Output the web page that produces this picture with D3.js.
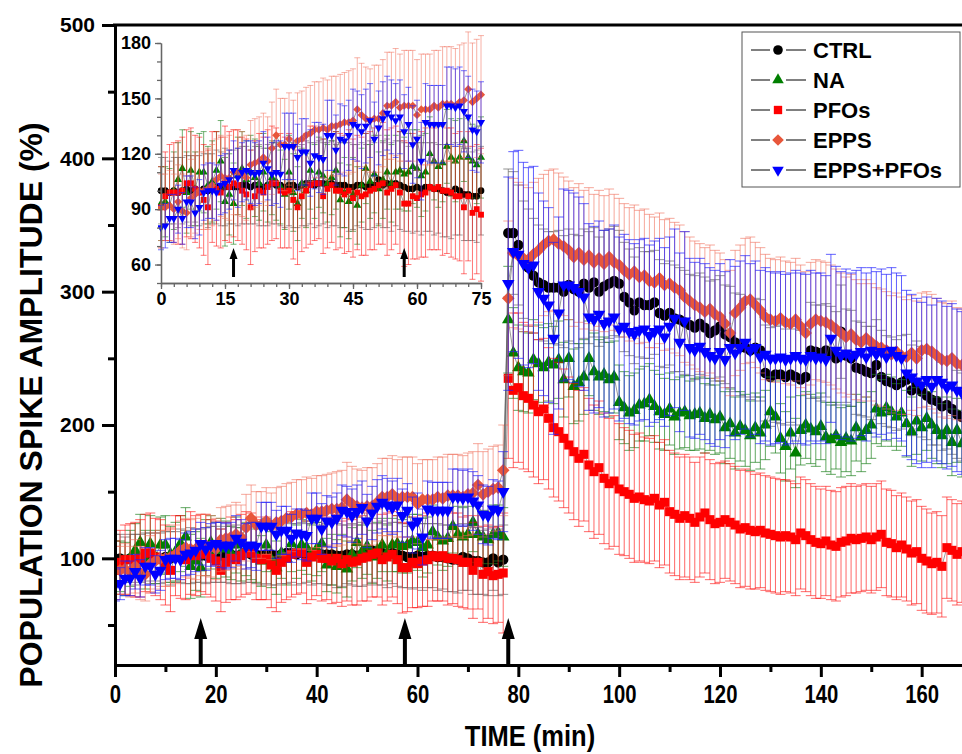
<!DOCTYPE html>
<html>
<head>
<meta charset="utf-8">
<script src="https://cdn.jsdelivr.net/npm/d3@7"></script>
<style>
  body { margin: 0; background: #fff; }
  svg { display: block; }
  text { font-family: "Liberation Sans", Arial, sans-serif; font-weight: bold; }
</style>
</head>
<body>
<div id="chart"></div>
<script>
// sampled once a minute, 0..168 min
const minutes = d3.range(0, 169)
const arrowTimes = [17, 57.5, 78]
const insetArrowTimes = [17, 57]

const ctrlPre = [100,100,99,100,99,100,101,100,101,100, 101,100,101,102,101,102,102,102,102,103, 103,102,103,103,102,103,104,103,103,102, 103,103,102,103,104,104,103,104,104,103, 104,103,103,103,102,102,103,103,102,103, 103,106,103,104,102,104,103,102,101,101, 102,101,102,102,101,101,100,99,99,101, 100,98,98,97,97,100,97,99]
const ctrlPost = [344,344,335,324,318,312,307,305,303,303, 303,300,305,302,300,306,303,307,300,304, 306,308,306,296,292,286,292,290,290,292, 284,282,284,280,279,277,275,273,276,273, 269,271,274,268,266,262,260,258,256,258, 256,239,236,238,238,236,238,236,234,236, 256,255,254,256,253,250,270,252,250,243, 242,240,239,245,236,233,232,230,232,234, 226,230,225,222,219,218,214,215,212,208, 206]
const ctrlErrPre = [18,18,17,18,19,18,18,19,18,19, 19,20,19,20,20,21,20,20,21,21, 21,20,21,22,21,22,22,21,22,22, 22,23,22,22,23,22,23,23,22,23, 23,22,23,23,24,23,22,23,23,24, 23,24,23,24,24,23,24,24,23,24, 24,25,24,24,25,24,25,24,25,25, 24,25,25,24,25,24,25,26]
const ctrlErrPost = [48,46,45,44,44,43,43,42,42,42, 43,42,42,41,42,41,42,41,41,42, 41,41,40,41,40,40,41,40,40,39, 40,39,39,40,39,39,38,39,38,38, 39,38,38,37,38,37,38,37,37,37, 38,36,37,36,37,36,36,36,37,36, 36,35,36,35,36,35,35,35,36,35, 35,34,35,34,35,34,34,34,35,34, 34,33,34,33,34,33,33,33,34,33, 33]

const naPre = [93,94,92,100,106,112,99,111,101,110, 110,103,105,111,116,94,98,93,108,112, 106,110,107,104,110,103,107,105,102,98, 110,99,93,104,100,111,105,110,108,104, 107,111,95,99,94,98,92,103,112,105, 109,101,106,110,104,110,111,109,110,113, 112,108,110,120,116,113,115,124,118,116, 118,127,118,116,114,118,119,116]
const naPost = [279,254,243,240,239,249,246,243,247,245, 249,234,250,229,232,236,250,240,236,238, 234,236,217,213,209,211,215,216,219,214, 210,208,212,206,209,210,207,208,209,205, 208,204,206,198,201,194,199,196,192,198, 194,200,210,206,190,184,194,179,196,200, 197,195,199,191,189,192,187,190,188,198, 191,196,200,212,209,213,210,206,209,201, 195,203,198,205,200,196,192,196,187,196, 186]
const naErrPre = [20,19,20,21,20,21,22,21,20,21, 22,21,22,21,22,24,22,22,21,20, 21,20,21,20,21,20,20,21,20,19, 20,21,20,19,20,21,20,19,20,21, 20,21,20,19,20,20,21,20,19,20, 21,20,21,20,21,20,21,20,21,20, 21,22,21,20,21,22,21,20,21,22, 21,22,21,20,21,22,21,22]
const naErrPost = [40,34,32,30,30,30,29,30,29,29, 29,28,29,28,29,28,28,29,28,28, 28,27,28,27,28,28,27,28,27,27, 28,27,27,28,27,27,26,27,27,26, 27,26,27,27,26,27,26,27,26,26, 27,26,26,27,26,26,27,26,26,25, 26,26,25,26,26,25,26,25,26,25, 26,25,25,26,25,25,26,25,25,25, 26,25,25,24,25,25,24,25,25,24, 25]

const pfosPre = [91,97,99,99,99,100,104,104,101,99, 95,91,102,101,99,104,102,104,103,100, 98,91,97,100,99,102,104,104,100,99, 100,95,91,97,100,103,104,104,97,101, 103,100,100,98,100,96,99,97,98,100, 101,103,104,99,101,103,99,93,93,97, 96,98,99,102,101,102,100,100,99,97, 97,91,97,88,90,87,88,89]
const pfosPost = [235,226,228,222,220,215,210,212,205,198, 195,190,185,180,175,178,170,165,168,160, 156,158,152,150,148,145,146,144,143,145, 140,142,135,133,130,132,130,127,131,134, 129,126,127,129,127,125,122,123,121,120, 121,119,118,117,116,117,116,114,119,117, 114,112,111,113,110,109,112,113,115,114, 115,116,114,116,118,112,111,108,110,107, 104,105,100,98,96,97,94,108,106,103, 105]
const pfosErrPre = [22,24,26,27,28,29,29,30,29,30, 30,31,30,31,30,31,30,29,30,29, 30,31,30,31,30,31,31,30,31,30, 31,32,31,30,31,32,31,30,31,32, 31,32,31,32,33,32,31,32,33,32, 33,32,33,34,33,32,33,34,33,34, 33,34,35,34,33,34,35,34,35,34, 35,36,35,36,35,36,36,45]
const pfosErrPost = [60,58,56,55,55,54,54,53,53,52, 52,52,51,51,51,50,50,50,50,49, 49,49,49,48,48,48,48,47,47,47, 47,47,46,46,46,46,46,45,45,45, 45,45,45,44,44,44,44,44,44,43, 43,43,43,43,43,42,42,42,42,42, 42,42,41,41,41,41,41,41,41,40, 40,40,40,40,40,40,40,39,39,39, 39,39,39,39,38,38,38,38,38,38, 38]

const eppsPre = [91,91,92,90,94,89,88,96,98,100, 100,101,103,106,108,107,107,110,110,109, 107,114,115,116,118,116,123,130,125,125, 128,124,127,128,130,131,133,133,134,133, 135,135,136,137,137,138,144,141,139,138, 139,139,142,146,146,148,145,146,146,146, 141,144,144,144,146,145,147,147,147,146, 148,149,155,148,150,152,153,166]
const eppsPost = [295,329,327,325,324,328,331,335,338,339, 336,334,331,326,329,324,327,322,325,321, 326,322,320,316,313,315,311,312,308,307, 310,305,306,303,301,296,293,290,288,285, 287,283,281,276,269,284,288,293,294,290, 286,281,279,278,280,277,276,279,274,269, 276,279,278,277,275,272,269,266,268,264, 262,265,262,259,258,256,253,255,252,251, 254,250,256,257,255,252,249,248,250,246, 245]
const eppsErrPre = [18,18,19,19,20,20,20,21,21,21, 21,22,22,22,22,22,23,23,23,23, 23,24,24,24,24,24,25,25,25,25, 25,25,26,26,26,26,26,26,27,27, 27,27,27,27,28,28,28,28,28,28, 29,29,29,29,29,29,29,30,30,30, 30,30,30,30,30,31,31,31,31,31, 31,31,31,32,32,32,32,34]
const eppsErrPost = [58,56,55,55,54,54,54,53,53,53, 53,52,52,52,52,52,51,51,51,51, 51,51,50,50,50,50,50,50,50,49, 49,49,49,49,49,49,48,48,48,48, 48,48,48,48,47,47,47,47,47,47, 47,47,46,46,46,46,46,46,46,46, 46,45,45,45,45,45,45,45,45,45, 44,44,44,44,44,44,44,44,44,43, 43,43,43,43,43,43,43,43,43,42, 42]

const bluePre = [80,81,85,85,90,85,94,94,88,91, 99,100,100,99,103,104,106,111,107,110, 111,110,109,110,115,112,109,110,109,124, 124,124,118,121,121,115,119,118,117,130, 130,122,128,127,130,136,135,132,135,138, 128,134,139,142,140,138,140,132,136,125, 128,116,137,136,136,136,136,146,146,145, 146,143,140,133,132,137,136,150]
const bluePost = [306,330,328,321,318,320,300,295,290,265, 284,305,305,303,300,296,281,279,283,276, 278,281,272,274,270,268,271,272,267,270, 272,266,274,280,262,278,258,256,259,255, 252,250,255,249,258,254,258,262,256,258, 251,253,250,250,251,249,250,252,250,249, 252,250,251,249,265,256,252,254,251,253, 255,251,256,253,255,251,256,252,250,239, 236,233,230,234,229,234,232,228,230,226, 224]
const blueErrPre = [12,12,13,13,13,14,14,14,14,15, 15,15,15,15,16,16,16,16,16,16, 16,17,17,17,17,17,17,17,18,18, 18,18,18,18,18,18,18,19,19,19, 19,19,19,19,19,19,19,20,20,20, 20,20,20,20,20,20,20,20,20,21, 21,21,21,21,21,21,21,21,21,21, 21,22,22,22,22,22,22,30]
const blueErrPost = [80,75,78,76,75,74,74,73,73,72, 72,72,71,71,71,70,70,70,70,70, 69,69,69,69,69,68,68,68,68,68, 68,67,67,67,67,67,67,66,66,66, 66,66,66,66,66,65,65,65,65,65, 65,65,65,64,64,64,64,64,64,64, 64,64,63,63,63,63,63,63,63,63, 63,63,62,62,62,62,62,62,62,62, 62,62,62,62,61,61,61,61,61,61, 61]

const diamond = {
  draw(ctx, size) {
    const r = Math.sqrt(size / 2)
    ctx.moveTo(0, -r); ctx.lineTo(r, 0); ctx.lineTo(0, r); ctx.lineTo(-r, 0); ctx.closePath()
  }
}
const triangleDown = {
  draw(ctx, size) {
    const a = Math.sqrt(size * 4 / Math.sqrt(3))
    const h = a * Math.sqrt(3) / 2
    ctx.moveTo(-a / 2, -h / 3); ctx.lineTo(a / 2, -h / 3); ctx.lineTo(0, 2 * h / 3); ctx.closePath()
  }
}

const series = [
  { name: "CTRL", vals: ctrlPre.concat(ctrlPost), err: ctrlErrPre.concat(ctrlErrPost), fill: "#000000", bar: "rgba(110,110,110,0.75)", type: d3.symbolCircle, size: 85 },
  { name: "NA", vals: naPre.concat(naPost), err: naErrPre.concat(naErrPost), fill: "#007f00", bar: "rgba(30,130,30,0.7)", type: d3.symbolTriangle, size: 68 },
  { name: "PFOs", vals: pfosPre.concat(pfosPost), err: pfosErrPre.concat(pfosErrPost), fill: "#ff0000", bar: "rgba(255,0,0,0.6)", type: d3.symbolSquare, size: 82 },
  { name: "EPPS", vals: eppsPre.concat(eppsPost), err: eppsErrPre.concat(eppsErrPost), fill: "#e8563a", bar: "rgba(240,110,90,0.6)", type: diamond, size: 80 },
  { name: "EPPS+PFOs", vals: bluePre.concat(bluePost), err: blueErrPre.concat(blueErrPost), fill: "#0000ff", bar: "rgba(30,30,255,0.7)", type: triangleDown, size: 68 }
]

const width = 962
const height = 754

const svg = d3.select("#chart").append("svg")
  .attr("width", width)
  .attr("height", height)

const x = d3.scaleLinear().domain([0, 168]).range([115, 962])
const y = d3.scaleLinear().domain([20, 500]).range([665, 25])

const xi = d3.scaleLinear().domain([0, 75]).range([161, 481])
const yi = d3.scaleLinear().domain([50, 180]).range([283, 43])

const defs = svg.append("defs")
defs.append("clipPath").attr("id", "clipMain").append("rect")
  .attr("x", 115).attr("y", 25).attr("width", 847).attr("height", 640)
defs.append("clipPath").attr("id", "clipInset").append("rect")
  .attr("x", 158).attr("y", 30).attr("width", 330).attr("height", 253)

function drawPlot(g, xs, ys, tMax, capW, scale, barW) {
  series.forEach(s => {
    const pts = minutes.filter(t => t <= tMax).map(t => ({ t: t, v: s.vals[t], e: s.err[t] }))
    g.append("path")
      .attr("fill", "none")
      .attr("stroke", s.bar)
      .attr("stroke-width", barW)
      .attr("d", pts.map(d => {
        const px = xs(d.t), y0 = ys(d.v - d.e), y1 = ys(d.v + d.e)
        return `M${px},${y0}V${y1}M${px - capW / 2},${y1}h${capW}M${px - capW / 2},${y0}h${capW}`
      }).join(""))
    g.append("path")
      .datum(pts)
      .attr("fill", "none")
      .attr("stroke", "#555")
      .attr("stroke-width", 0.6)
      .attr("d", d3.line().x(d => xs(d.t)).y(d => ys(d.v)))
    g.selectAll(null)
      .data(pts)
      .enter()
      .append("path")
      .attr("transform", d => `translate(${xs(d.t)},${ys(d.v)})`)
      .attr("fill", s.fill)
      .attr("d", d3.symbol().type(s.type).size(s.size * scale))
  })
}

// main plot
const main = svg.append("g").attr("clip-path", "url(#clipMain)")
drawPlot(main, x, y, 168, 10, 1, 1)

// axes
const axisStyle = g => {
  g.selectAll("path.domain").attr("stroke", "#000").attr("stroke-width", 3)
  g.selectAll(".tick line").attr("stroke", "#000").attr("stroke-width", 3)
}

svg.append("g")
  .attr("transform", "translate(115,0)")
  .call(d3.axisLeft(y).tickValues([50, 150, 250, 350, 450]).tickSize(7).tickSizeOuter(0).tickFormat(""))
  .call(axisStyle)

svg.append("g")
  .attr("transform", "translate(115,0)")
  .call(d3.axisLeft(y).tickValues([100, 200, 300, 400, 500]).tickSize(13).tickSizeOuter(0).tickPadding(7))
  .call(axisStyle)
  .call(g => g.selectAll(".tick text").attr("font-size", 21).attr("fill", "#000"))

svg.append("g")
  .attr("transform", "translate(0,665)")
  .call(d3.axisBottom(x).tickValues([10, 30, 50, 70, 90, 110, 130, 150]).tickSize(7).tickSizeOuter(0).tickFormat(""))
  .call(axisStyle)

svg.append("g")
  .attr("transform", "translate(0,665)")
  .call(d3.axisBottom(x).tickValues(d3.range(0, 161, 20)).tickSize(12).tickSizeOuter(0).tickPadding(8))
  .call(axisStyle)
  .call(g => g.selectAll(".tick text")
    .attr("font-size", 26)
    .attr("fill", "#000")
    .attr("transform", "scale(0.78,1)"))

// top frame line
svg.append("line")
  .attr("x1", 113).attr("x2", 962).attr("y1", 25).attr("y2", 25)
  .attr("stroke", "#000").attr("stroke-width", 3)

svg.append("text")
  .attr("transform", "translate(530,746) scale(0.88,1)")
  .attr("text-anchor", "middle")
  .attr("font-size", 29)
  .text("TIME (min)")

svg.append("text")
  .attr("transform", "translate(42,405) rotate(-90)")
  .attr("text-anchor", "middle")
  .attr("font-size", 32)
  .text("POPULATION SPIKE AMPLITUDE (%)")

// arrows
function arrow(g, px, base, tip, shaft, headW, headL) {
  g.append("path")
    .attr("fill", "#000")
    .attr("d", `M${px - shaft / 2},${base}V${tip + headL}H${px - headW / 2}L${px},${tip}L${px + headW / 2},${tip + headL}H${px + shaft / 2}V${base}Z`)
}
arrowTimes.forEach(t => arrow(svg, x(t), 664, 618, 4, 13, 21))

// inset
const inset = svg.append("g").attr("clip-path", "url(#clipInset)")
drawPlot(inset, xi, yi, 75, 6, 0.42, 0.9)

const insetAxis = g => {
  g.selectAll("path.domain").attr("stroke", "#666").attr("stroke-width", 1.3)
  g.selectAll(".tick line").attr("stroke", "#666").attr("stroke-width", 1.3)
}

svg.append("g")
  .attr("transform", "translate(161,0)")
  .call(d3.axisLeft(yi).tickValues(d3.range(50, 181, 10)).tickSize(4).tickSizeOuter(0).tickFormat(""))
  .call(insetAxis)
svg.append("g")
  .attr("transform", "translate(161,0)")
  .call(d3.axisLeft(yi).tickValues([60, 90, 120, 150, 180]).tickSize(6).tickSizeOuter(0).tickPadding(4))
  .call(insetAxis)
  .call(g => g.selectAll(".tick text").attr("font-size", 18).attr("fill", "#000"))

svg.append("g")
  .attr("transform", "translate(0,283)")
  .call(d3.axisBottom(xi).tickValues(d3.range(0, 76, 3)).tickSize(4).tickSizeOuter(0).tickFormat(""))
  .call(insetAxis)
svg.append("g")
  .attr("transform", "translate(0,283)")
  .call(d3.axisBottom(xi).tickValues(d3.range(0, 76, 15)).tickSize(6).tickSizeOuter(0).tickPadding(3))
  .call(insetAxis)
  .call(g => g.selectAll(".tick text").attr("font-size", 18).attr("fill", "#000"))

insetArrowTimes.forEach(t => arrow(svg, xi(t), 277, 248, 3, 8, 11))

// legend
const legend = svg.append("g")
legend.append("rect")
  .attr("x", 742).attr("y", 32).attr("width", 218).attr("height", 155)
  .attr("fill", "#fff").attr("stroke", "#555").attr("stroke-width", 1)

series.forEach((s, i) => {
  const ly = 50 + i * 30
  legend.append("line")
    .attr("x1", 751).attr("x2", 806).attr("y1", ly).attr("y2", ly)
    .attr("stroke", "#000").attr("stroke-width", 1)
  legend.append("rect")
    .attr("x", 770).attr("y", ly - 7).attr("width", 16).attr("height", 14)
    .attr("fill", "#fff")
  legend.append("path")
    .attr("transform", `translate(778,${ly})`)
    .attr("fill", s.fill)
    .attr("d", d3.symbol().type(s.type).size(s.size * 0.85))
  legend.append("text")
    .attr("x", 813).attr("y", ly + 8)
    .attr("font-size", 22)
    .text(s.name)
})
</script>
</body>
</html>
